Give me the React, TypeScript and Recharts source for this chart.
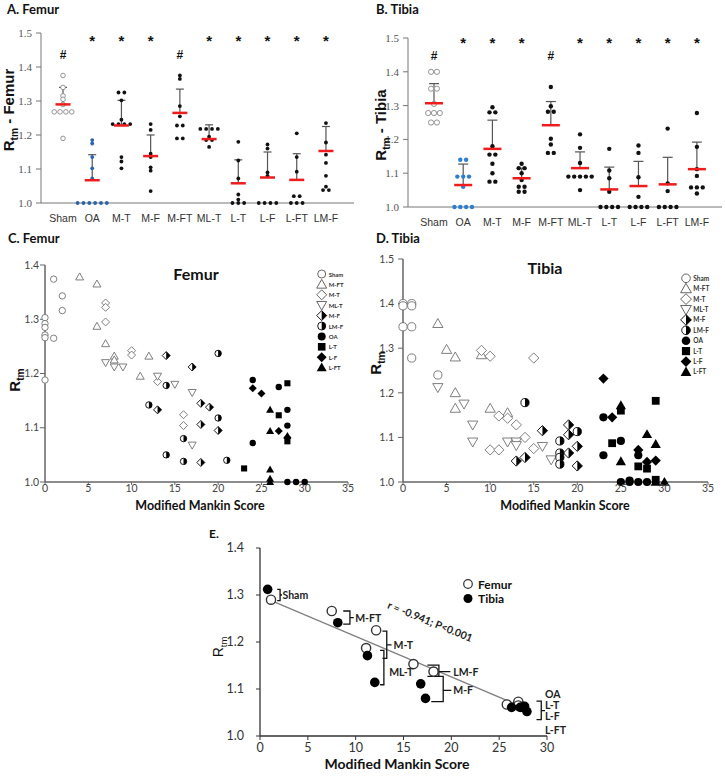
import React from 'react';
import { ScatterChart, Scatter, XAxis, YAxis, ErrorBar } from 'recharts';

const SANS = '"Liberation Sans", Arial, sans-serif';
const SERIF = '"Liberation Serif", "Times New Roman", serif';
const LATO = 'Lato, "Open Sans", sans-serif';
const BLUE = '#2a62ab';
const RED = '#ee1c1c';

// groups, in the order of panels A and B
const groups = ['Sham', 'OA', 'M-T', 'M-F', 'M-FT', 'ML-T', 'L-T', 'L-F', 'L-FT', 'LM-F'];
const starGroups = ['OA', 'M-T', 'M-F', 'ML-T', 'L-T', 'L-F', 'L-FT', 'LM-F'];
const hashGroups = ['Sham', 'M-FT'];

// A. femur Rtm per knee
const femurVals = [
  [1.375, 1.34, 1.315, 1.305, 1.29, 1.268, 1.268, 1.268, 1.268, 1.19],
  [1.185, 1.175, 1.135, 1.102, 1.072, 1.0, 1.0, 1.0, 1.0, 1.0, 1.0],
  [1.325, 1.325, 1.302, 1.245, 1.232, 1.232, 1.232, 1.232, 1.135, 1.122, 1.102],
  [1.232, 1.215, 1.145, 1.135, 1.105, 1.095, 1.035],
  [1.375, 1.365, 1.285, 1.255, 1.228, 1.228, 1.19, 1.19],
  [1.218, 1.218, 1.218, 1.218, 1.195, 1.185, 1.185, 1.165],
  [1.18, 1.125, 1.072, 1.025, 1.01, 1.0, 1.0, 1.0],
  [1.172, 1.16, 1.09, 1.08, 1.0, 1.0, 1.0, 1.0],
  [1.205, 1.135, 1.092, 1.02, 1.02, 1.0, 1.0, 1.0],
  [1.235, 1.178, 1.142, 1.118, 1.08, 1.048, 1.038, 1.038],
];
const femurMean = [1.29, 1.067, 1.228, 1.138, 1.265, 1.188, 1.058, 1.075, 1.068, 1.153];
const femurUpper = [1.34, 1.142, 1.302, 1.2, 1.335, 1.23, 1.127, 1.15, 1.145, 1.225];

// B. tibia Rtm per knee
const tibiaVals = [
  [1.4, 1.4, 1.35, 1.35, 1.305, 1.278, 1.278, 1.278, 1.25, 1.25],
  [1.14, 1.14, 1.09, 1.09, 1.09, 1.06, 1.0, 1.0, 1.0, 1.0],
  [1.295, 1.28, 1.28, 1.18, 1.155, 1.155, 1.128, 1.1, 1.075, 1.075],
  [1.128, 1.115, 1.115, 1.1, 1.08, 1.06, 1.06, 1.045, 1.045],
  [1.355, 1.298, 1.282, 1.282, 1.202, 1.185, 1.16, 1.16],
  [1.215, 1.175, 1.13, 1.09, 1.09, 1.09, 1.09, 1.09, 1.05],
  [1.172, 1.108, 1.085, 1.045, 1.0, 1.0, 1.0, 1.0],
  [1.182, 1.16, 1.088, 1.03, 1.0, 1.0, 1.0, 1.0],
  [1.232, 1.07, 1.047, 1.0, 1.0, 1.0, 1.0],
  [1.278, 1.178, 1.112, 1.092, 1.058, 1.058, 1.058, 1.04],
];
const tibiaMean = [1.307, 1.065, 1.172, 1.085, 1.242, 1.115, 1.052, 1.062, 1.067, 1.112];
const tibiaUpper = [1.365, 1.127, 1.257, 1.115, 1.312, 1.163, 1.118, 1.135, 1.147, 1.192];

// C / D. Rtm against Modified Mankin score, [score, Rtm]
const legendOrder = ['Sham', 'M-FT', 'M-T', 'ML-T', 'M-F', 'LM-F', 'OA', 'L-T', 'L-F', 'L-FT'];
const markerKind: Record<string, string> = {
  Sham: 'circleOpen', 'M-FT': 'triOpen', 'M-T': 'diaOpen', 'ML-T': 'triDownOpen', 'M-F': 'diaHalf',
  'LM-F': 'circHalf', OA: 'circle', 'L-T': 'square', 'L-F': 'diamond', 'L-FT': 'triangle',
};

const femurSham = [[0, 1.303], [0, 1.292], [0, 1.285], [0, 1.271], [0, 1.266], [0, 1.188], [1, 1.374], [1, 1.265], [2, 1.343], [2, 1.316]];
const femurMFT = [[4, 1.378], [6, 1.365], [6, 1.287], [7, 1.255], [8, 1.232], [8, 1.225], [11, 1.195], [12, 1.232]];
const femurMT = [[7, 1.33], [7, 1.322], [7, 1.295], [10, 1.242], [10, 1.234], [13, 1.185], [16, 1.124], [16, 1.104]];
const femurMLT = [[7, 1.22], [8, 1.212], [9, 1.212], [13, 1.195], [15, 1.18], [17, 1.165], [17, 1.068]];
const femurMF = [[14, 1.233], [17, 1.212], [18, 1.145], [19, 1.138], [18, 1.106], [20, 1.095], [13, 1.133], [18, 1.036]];
const femurLMF = [[20, 1.237], [14, 1.178], [12, 1.142], [20, 1.118], [16, 1.08], [14, 1.05], [16, 1.038], [21, 1.04]];
const femurOA = [[24, 1.188], [27, 1.175], [28, 1.133], [28, 1.104], [24, 1.072], [28, 1.0], [29, 1.0], [30, 1.0]];
const femurLT = [[28, 1.182], [27, 1.123], [28, 1.075], [23, 1.025]];
const femurLF = [[24, 1.173], [25, 1.163], [27, 1.094], [28, 1.082]];
const femurLFT = [[26, 1.133], [26, 1.094], [26, 1.023], [26, 1.006], [28, 1.085], [26, 1.0]];
const femurScore = [femurSham, femurMFT, femurMT, femurMLT, femurMF, femurLMF, femurOA, femurLT, femurLF, femurLFT];

const tibiaSham = [[0, 1.4], [0, 1.395], [0, 1.348], [1, 1.4], [1, 1.395], [1, 1.348], [1, 1.278], [4, 1.24]];
const tibiaMFT = [[4, 1.355], [5, 1.297], [6, 1.28], [6, 1.2], [6, 1.165], [9, 1.285], [10, 1.165], [12, 1.155]];
const tibiaMT = [[9, 1.295], [10, 1.282], [15, 1.278], [11, 1.148], [12, 1.143], [13, 1.128], [14, 1.1], [15, 1.075], [10, 1.072], [11, 1.072]];
const tibiaMLT = [[4, 1.212], [7, 1.175], [8, 1.128], [8, 1.09], [12, 1.09], [13, 1.09], [13, 1.082], [16, 1.08], [17, 1.05]];
const tibiaMF = [[13, 1.047], [14, 1.055], [16, 1.115], [19, 1.128], [19, 1.106], [19, 1.065], [20, 1.08], [20, 1.036]];
const tibiaLMF = [[14, 1.178], [18, 1.092], [18, 1.065], [18, 1.055], [18, 1.04], [20, 1.113]];
const tibiaOA = [[23, 1.145], [23, 1.06], [25, 1.092], [27, 1.06], [25, 1.0], [26, 1.003], [27, 1.0], [28, 1.0], [26, 1.0]];
const tibiaLT = [[25, 1.16], [24, 1.087], [27, 1.035], [28, 1.03], [29, 1.182], [29, 1.005]];
const tibiaLF = [[23, 1.232], [24, 1.145], [27, 1.072], [28, 1.045], [29, 1.048]];
const tibiaLFT = [[25, 1.172], [25, 1.046], [28, 1.107], [29, 1.085], [30, 1.0], [29, 1.0]];
const tibiaScore = [tibiaSham, tibiaMFT, tibiaMT, tibiaMLT, tibiaMF, tibiaLMF, tibiaOA, tibiaLT, tibiaLF, tibiaLFT];

// E. group means, [score, Rtm]
const femurAvg = [[1.15, 1.29], [7.5, 1.266], [12.14, 1.225], [11.09, 1.187], [16.04, 1.153], [18.14, 1.137], [25.8, 1.067], [27.0, 1.073], [27.0, 1.065], [27.5, 1.062]];
const tibiaAvg = [[0.8, 1.312], [8.13, 1.241], [11.23, 1.171], [12.0, 1.114], [16.8, 1.111], [17.3, 1.08], [26.3, 1.061], [27.2, 1.061], [27.66, 1.063], [27.9, 1.052]];
const fitLine = [[1.3, 1.287], [28.1, 1.056]];
const corrText = 'r = -0.941; P<0.001';
const oaLabels = ['OA', 'L-T', 'L-F', 'L-FT'];

// bracket annotations in panel E (data coords)
const brackets = [
  { name: 'Sham', arm: 1.8, spine: 2.1, top: 1.312, bot: 1.288, tip: 2.3, mid: 1.3, lx: 2.35, ly: 1.3 },
  { name: 'M-FT', arm: 8.7, spine: 9.4, top: 1.266, bot: 1.238, tip: 9.8, mid: 1.252, lx: 9.95, ly: 1.252 },
  { name: 'M-T', arm: 12.8, spine: 13.25, top: 1.223, bot: 1.165, tip: 13.75, mid: 1.194, lx: 13.95, ly: 1.194 },
  { name: 'ML-T', arm: 12.55, spine: 12.95, top: 1.182, bot: 1.109, tip: 0, mid: 0, lx: 13.5, ly: 1.137 },
  { name: 'LM-F', arm: 17.5, spine: 18.7, top: 1.151, bot: 1.127, tip: 19.9, mid: 1.137, lx: 20.2, ly: 1.136 },
  { name: 'M-F', arm: 17.9, spine: 19.15, top: 1.127, bot: 1.073, tip: 20.0, mid: 1.097, lx: 20.2, ly: 1.097 },
  { name: '', arm: 28.9, spine: 29.4, top: 1.074, bot: 1.035, tip: 29.8, mid: 1.054, lx: 0, ly: 0 },
];

const pairs = (a: number[][]) => a.map(([x, y]) => ({ x, y }));

function spreadGroups(vals: number[][], step: number) {
  const out: { x: number; y: number; g: number }[] = [];
  vals.forEach((list, g) => {
    const uniq: { v: number; n: number }[] = [];
    list.forEach((v) => {
      const u = uniq.find((q) => Math.abs(q.v - v) < 0.004);
      if (u) u.n += 1;
      else uniq.push({ v, n: 1 });
    });
    uniq.forEach((u) => {
      for (let k = 0; k < u.n; k++) out.push({ x: g + (k - (u.n - 1) / 2) * step, y: u.v, g });
    });
  });
  return out;
}

function Marker({ kind, cx, cy, r, gray = '#707070' }: any) {
  const d = r * 1.25;
  const up = `${cx},${cy - d} ${cx + d},${cy + d * 0.75} ${cx - d},${cy + d * 0.75}`;
  const down = `${cx},${cy + d} ${cx + d},${cy - d * 0.75} ${cx - d},${cy - d * 0.75}`;
  const dia = `${cx},${cy - d} ${cx + d},${cy} ${cx},${cy + d} ${cx - d},${cy}`;
  const sw = 0.9;
  switch (kind) {
    case 'circleOpen':
      return <circle cx={cx} cy={cy} r={r} fill="#fff" stroke={gray} strokeWidth={sw} />;
    case 'triOpen':
      return <polygon points={up} fill="#fff" stroke={gray} strokeWidth={sw} />;
    case 'triDownOpen':
      return <polygon points={down} fill="#fff" stroke={gray} strokeWidth={sw} />;
    case 'diaOpen':
      return <polygon points={dia} fill="#fff" stroke={gray} strokeWidth={sw} />;
    case 'diaHalf':
      return (
        <g>
          <polygon points={dia} fill="#fff" stroke="#000" strokeWidth={sw} />
          <polygon points={`${cx},${cy - d} ${cx + d},${cy} ${cx},${cy + d}`} fill="#000" />
        </g>
      );
    case 'circHalf':
      return (
        <g>
          <circle cx={cx} cy={cy} r={r} fill="#fff" stroke="#000" strokeWidth={sw} />
          <path d={`M${cx},${cy - r} A${r},${r} 0 0 1 ${cx},${cy + r} Z`} fill="#000" />
        </g>
      );
    case 'square':
      return <rect x={cx - r * 0.95} y={cy - r * 0.95} width={r * 1.9} height={r * 1.9} fill="#000" />;
    case 'diamond':
      return <polygon points={dia} fill="#000" />;
    case 'triangle':
      return <polygon points={up} fill="#000" />;
    default:
      return <circle cx={cx} cy={cy} r={r} fill="#000" />;
  }
}

const yTicks = (max: number) => {
  const t: number[] = [];
  for (let v = 1; v <= max + 1e-9; v += 0.1) t.push(Math.round(v * 10) / 10);
  return t;
};

function GroupPanel({ left, width, plotLeft, plotRight, plotTop, plotBottom, domain, vals, means, upper, r, half, cap, starY, hashY, oaColor }: any) {
  const pts = spreadGroups(vals, 0.2);
  const meanData = means.map((m: number, i: number) => ({ x: i, y: m, err: [0, upper[i] - m] }));
  const sig = [
    ...starGroups.map((g) => ({ x: groups.indexOf(g), y: starY, t: '*' })),
    ...hashGroups.map((g) => ({ x: groups.indexOf(g), y: hashY, t: '#' })),
  ];
  const H = 250;
  return (
    <div style={{ position: 'absolute', left, top: 0 }}>
      <ScatterChart width={width} height={H} margin={{ top: plotTop, right: width - plotRight, bottom: H - plotBottom - 30, left: plotLeft - 30 }}>
        <XAxis type="number" dataKey="x" domain={domain} ticks={groups.map((_, i) => i)} interval={0}
          tickFormatter={(v: number) => groups[Math.round(v)]} tickLine={false} tickSize={0} tickMargin={12} height={30}
          axisLine={{ stroke: '#777' }} tick={{ fontSize: 10.5, fill: '#333', fontFamily: SANS }} />
        <YAxis type="number" dataKey="y" domain={[1, 1.5]} ticks={yTicks(1.5)} width={30} tickSize={5} tickMargin={4}
          tickFormatter={(v: number) => v.toFixed(1)} axisLine={{ stroke: '#777' }} tickLine={{ stroke: '#777' }}
          tick={{ fontSize: 11, fill: '#555', fontFamily: SERIF }} />
        <Scatter data={pts} isAnimationActive={false} shape={(p: any) => {
          const g = p.payload.g;
          if (g === 0) return <circle cx={p.cx} cy={p.cy} r={r + 0.4} fill="#fff" stroke="#888" strokeWidth={0.9} />;
          return <circle cx={p.cx} cy={p.cy} r={r} fill={g === 1 ? oaColor : '#111'} />;
        }} />
        <Scatter data={meanData} isAnimationActive={false} shape={(p: any) => (
          <line x1={p.cx - half} x2={p.cx + half} y1={p.cy} y2={p.cy} stroke={RED} strokeWidth={2.5} />
        )}>
          <ErrorBar dataKey="err" direction="y" width={cap} stroke="#555" strokeWidth={1.2} />
        </Scatter>
        <Scatter data={sig} isAnimationActive={false} shape={(p: any) => (
          <text x={p.cx} y={p.payload.t === '*' ? p.cy + 2 : p.cy} textAnchor="middle" dominantBaseline="central"
            fontSize={p.payload.t === '*' ? 15 : 12} fontWeight="bold" fontFamily={SANS} fill="#111">{p.payload.t}</text>
        )} />
      </ScatterChart>
    </div>
  );
}

function ScorePanel({ left, top, width, plotLeft, plotRight, plotTop, plotBottom, yMax, sets, r, tickMargin }: any) {
  const H = 250;
  return (
    <div style={{ position: 'absolute', left, top }}>
      <ScatterChart width={width} height={H} margin={{ top: plotTop, right: width - plotRight, bottom: H - plotBottom - 16, left: plotLeft - 35 }}>
        <XAxis type="number" dataKey="x" domain={[0, 35]} ticks={[0, 5, 10, 15, 20, 25, 30, 35]} interval={0} height={16}
          tickSize={3} tickMargin={0} axisLine={{ stroke: '#666', strokeWidth: 1.5 }} tickLine={{ stroke: '#666' }}
          tick={{ fontSize: 10.5, fill: '#444', fontFamily: LATO }} />
        <YAxis type="number" dataKey="y" domain={[1, yMax]} ticks={yTicks(yMax)} width={35} tickSize={5} tickMargin={tickMargin}
          tickFormatter={(v: number) => v.toFixed(1)} axisLine={{ stroke: '#666', strokeWidth: 1.5 }} tickLine={{ stroke: '#666' }}
          tick={{ fontSize: 10.5, fill: '#444', fontFamily: LATO }} />
        {sets.map((s: number[][], i: number) => (
          <Scatter key={legendOrder[i]} data={pairs(s)} isAnimationActive={false}
            shape={(p: any) => <Marker kind={markerKind[legendOrder[i]]} cx={p.cx} cy={p.cy} r={r} />} />
        ))}
      </ScatterChart>
    </div>
  );
}

function MeanPanel() {
  const W = 420;
  const H = 279;
  const labels = [
    ...brackets.filter((b) => b.name).map((b) => ({ x: b.lx, y: b.ly, t: b.name })),
    ...oaLabels.map((t, i) => ({ x: 29.8, y: [1.09, 1.066, 1.043, 1.013][i], t })),
  ];
  const bracketPath = (b: any) => {
    const p = [[b.arm, b.top], [b.spine, b.top]];
    if (b.tip) p.push([b.spine, b.mid], [b.tip, b.mid], [b.spine, b.mid]);
    p.push([b.spine, b.bot], [b.arm, b.bot]);
    return pairs(p);
  };
  return (
    <div style={{ position: 'absolute', left: 180, top: 500 }}>
      <ScatterChart width={W} height={H} margin={{ top: 48, right: W - 367, bottom: H - 236 - 20, left: 80 - 40 }}>
        <XAxis type="number" dataKey="x" domain={[0, 30]} ticks={[0, 5, 10, 15, 20, 25, 30]} interval={0} height={20}
          tickSize={4} tickMargin={3} axisLine={{ stroke: '#333', strokeWidth: 1.3 }} tickLine={{ stroke: '#333' }}
          tick={{ fontSize: 12.5, fill: '#333', fontFamily: LATO }} />
        <YAxis type="number" dataKey="y" domain={[1, 1.4]} ticks={yTicks(1.4)} width={40} tickSize={4} tickMargin={12}
          tickFormatter={(v: number) => v.toFixed(1)} axisLine={{ stroke: '#333', strokeWidth: 1.3 }} tickLine={{ stroke: '#333' }}
          tick={{ fontSize: 12.5, fill: '#333', fontFamily: LATO }} />
        <Scatter data={pairs(fitLine)} isAnimationActive={false} line={{ stroke: '#808080', strokeWidth: 1.3 }} shape={() => <g />} />
        {brackets.map((b, i) => (
          <Scatter key={'br' + i} data={bracketPath(b)} isAnimationActive={false} line={{ stroke: '#111', strokeWidth: 1.3 }} shape={() => <g />} />
        ))}
        <Scatter data={pairs(femurAvg)} isAnimationActive={false}
          shape={(p: any) => <circle cx={p.cx} cy={p.cy} r={4.6} fill="#fff" stroke="#333" strokeWidth={1.4} />} />
        <Scatter data={pairs(tibiaAvg)} isAnimationActive={false}
          shape={(p: any) => <circle cx={p.cx} cy={p.cy} r={4.8} fill="#000" />} />
        <Scatter data={labels} isAnimationActive={false} shape={(p: any) => (
          <text x={p.cx} y={p.cy} dominantBaseline="central" fontSize={10.5} fontWeight="bold" fontFamily={LATO} fill="#222">{p.payload.t}</text>
        )} />
        <Scatter data={[{ x: 17.8, y: 1.244, t: corrText }]} isAnimationActive={false} shape={(p: any) => (
          <text x={p.cx} y={p.cy} textAnchor="middle" dominantBaseline="central" fontSize={10.5} fontWeight="bold"
            fontFamily={LATO} fill="#222" transform={`rotate(22 ${p.cx} ${p.cy})`}>{p.payload.t}</text>
        )} />
      </ScatterChart>
    </div>
  );
}

function RtmTitle({ x, y, rest, size = 15, weight = 700 }: any) {
  return (
    <div style={{ position: 'absolute', left: x, top: y, transform: 'translate(-50%, -50%) rotate(-90deg)', whiteSpace: 'nowrap',
      fontFamily: SANS, fontWeight: weight, fontSize: size, color: '#111', lineHeight: 1 }}>
      R<sub style={{ fontSize: '0.68em' }}>tm</sub>{rest}
    </div>
  );
}

function ShapeLegend({ x, y, step, r, fontSize }: any) {
  return (
    <g>
      {legendOrder.map((name, i) => (
        <g key={name}>
          <Marker kind={markerKind[name]} cx={x} cy={y + i * step} r={r} gray="#555" />
          <text x={x + r + 3} y={y + i * step} dominantBaseline="central" fontSize={fontSize} fontWeight="bold" fontFamily={LATO} fill="#333">{name}</text>
        </g>
      ))}
    </g>
  );
}

export default function App() {
  const bold = { fontFamily: LATO, fontWeight: 'bold' as const, fill: '#111' };
  return (
    <div style={{ position: 'absolute', left: 0, top: 0, width: 725, height: 779, background: '#fff', overflow: 'hidden' }}>
      <GroupPanel left={0} width={360} plotLeft={41} plotRight={354} plotTop={33} plotBottom={203}
        domain={[-0.753, 9.96]} vals={femurVals} means={femurMean} upper={femurUpper} r={1.9} half={7.5} cap={4}
        starY={1.485} hashY={1.435} oaColor={BLUE} />
      <GroupPanel left={360} width={365} plotLeft={48} plotRight={362} plotTop={38} plotBottom={207}
        domain={[-0.89, 9.86]} vals={tibiaVals} means={tibiaMean} upper={tibiaUpper} r={2.2} half={9} cap={5}
        starY={1.492} hashY={1.448} oaColor="#2f7fd0" />
      <ScorePanel left={0} top={250} width={360} plotLeft={45} plotRight={348} plotTop={15} plotBottom={232}
        yMax={1.4} sets={femurScore} r={3.2} tickMargin={1} />
      <ScorePanel left={360} top={250} width={365} plotLeft={43} plotRight={348} plotTop={9} plotBottom={232}
        yMax={1.5} sets={tibiaScore} r={4.1} tickMargin={4} />
      <MeanPanel />

      <RtmTitle x={11} y={110} rest=" - Femur" />
      <RtmTitle x={383} y={125} rest=" - Tibia" />
      <RtmTitle x={17} y={380} rest="" />
      <RtmTitle x={378} y={363} rest="" />
      <RtmTitle x={220} y={647} rest="" size={14} weight={400} />

      <svg width={725} height={779} style={{ position: 'absolute', left: 0, top: 0, pointerEvents: 'none' }}>
        <text x={7} y={9} dominantBaseline="central" fontSize={13} {...bold}>A. Femur</text>
        <text x={376} y={9} dominantBaseline="central" fontSize={13} {...bold}>B. Tibia</text>
        <text x={8} y={238} dominantBaseline="central" fontSize={13} {...bold}>C. Femur</text>
        <text x={376} y={238} dominantBaseline="central" fontSize={13} {...bold}>D. Tibia</text>
        <text x={209} y={533} dominantBaseline="central" fontSize={12} {...bold}>E.</text>
        <text x={196} y={273} textAnchor="middle" dominantBaseline="central" fontSize={16} {...bold}>Femur</text>
        <text x={545} y={267} textAnchor="middle" dominantBaseline="central" fontSize={16} {...bold}>Tibia</text>
        <text x={200} y={505} textAnchor="middle" dominantBaseline="central" fontSize={12.5} {...bold}>Modified Mankin Score</text>
        <text x={565} y={505} textAnchor="middle" dominantBaseline="central" fontSize={12.5} {...bold}>Modified Mankin Score</text>
        <text x={397} y={763} textAnchor="middle" dominantBaseline="central" fontSize={14} {...bold}>Modified Mankin Score</text>
        <ShapeLegend x={321.7} y={274} step={10.4} r={4} fontSize={6} />
        <ShapeLegend x={686} y={278.3} step={10.4} r={4.3} fontSize={6.5} />
        <circle cx={468} cy={584} r={4.3} fill="#fff" stroke="#333" strokeWidth={1.2} />
        <text x={478} y={584} dominantBaseline="central" fontSize={12} {...bold}>Femur</text>
        <circle cx={468} cy={598.5} r={4.5} fill="#000" />
        <text x={478} y={598.5} dominantBaseline="central" fontSize={12} {...bold}>Tibia</text>
      </svg>
    </div>
  );
}
